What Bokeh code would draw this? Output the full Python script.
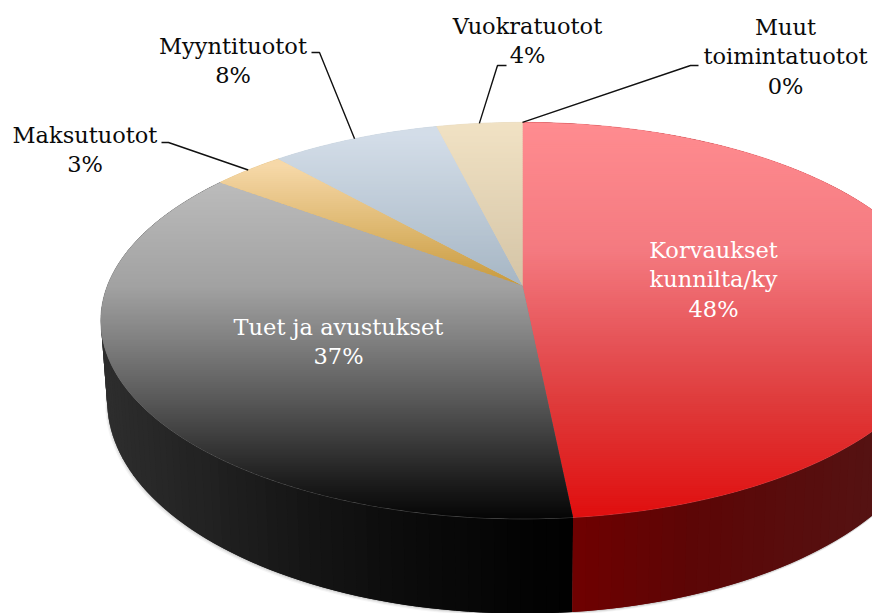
import math
from bokeh.plotting import figure
from bokeh.models import Range1d
from bokeh.core.properties import value
from bokeh.embed import file_html
from bokeh.resources import INLINE

# ---- data ----
categories = ["Korvaukset\nkunnilta/ky", "Tuet ja avustukset", "Maksutuotot",
              "Myyntituotot", "Vuokratuotot", "Muut\ntoimintatuotot"]
shares = [48.4, 36.7, 3.3, 7.7, 3.9, 0.0]

# ---- style: colour stops by picture height ----
top_stops = [
    [(122, "#ff8c90"), (250, "#f47a80"), (340, "#e65458"), (400, "#df3c3c"), (515, "#e00f0f")],
    [(180, "#bcbcbc"), (285, "#a2a2a2"), (340, "#808080"), (400, "#585858"), (480, "#1e1e1e"), (518, "#050505")],
    [(165, "#f6d8a8"), (285, "#c89a3c")],
    [(135, "#d3dde8"), (285, "#a6b6c4")],
    [(122, "#f1e2c4"), (285, "#d4c4a6")],
    [(122, "#ffffff"), (285, "#ffffff")],
]
wall_stops = [
    [(572, "#700000"), (700, "#5c0606"), (872, "#551212")],
    [(100, "#2e2e2e"), (200, "#222222"), (300, "#151515"), (400, "#0b0b0b"), (572, "#000000")],
]
label_pos = [(713, 249, "#ffffff"), (338, 326, "#ffffff"), (84.5, 134, "#0a0a0a"),
             (232.5, 45, "#0a0a0a"), (527, 25, "#0a0a0a"), (785, 26, "#0a0a0a")]
knees = {2: [(161, 142), (168, 142)], 3: [(311, 52), (319, 52)],
         4: [(506, 65), (497, 65)], 5: [(698, 65), (690, 65)]}
FONT = "DejaVu Serif"
FONT_SIZE = "22.5px"
LINE_H = 29.5

# ---- projection of the tilted disc ----
CX, CY, RX, RY, K, H, S = 522.0, 285.0, 415.0, 192.0, 0.177, 78.0, 0.985

def project(theta):
    u, v = math.sin(theta), -math.cos(theta)
    w = 1 / (1 - K * v)
    return CX + RX * u * w, CY + RY * v * w

def project_low(theta):
    u, v = math.sin(theta), -math.cos(theta)
    w = 1 / (1 - K * v)
    return CX + RX * u * w * S, CY + RY * v * w + H * w

def hex2rgb(c):
    return tuple(int(c[i:i + 2], 16) for i in (1, 3, 5))

def ramp(stops, t):
    if t <= stops[0][0]:
        return stops[0][1]
    for (a, ca), (b, cb) in zip(stops, stops[1:]):
        if t <= b:
            f = (t - a) / (b - a)
            ra, rb = hex2rgb(ca), hex2rgb(cb)
            return "#%02x%02x%02x" % tuple(round(x + (y - x) * f) for x, y in zip(ra, rb))
    return stops[-1][1]

def clip(poly, lo, hi):
    def half(pts, inside, limit):
        out = []
        for i, p in enumerate(pts):
            q = pts[(i + 1) % len(pts)]
            if inside(p):
                out.append(p)
            if inside(p) != inside(q):
                f = (limit - p[1]) / (q[1] - p[1])
                out.append((p[0] + (q[0] - p[0]) * f, limit))
        return out
    res = half(poly, lambda p: p[1] >= lo, lo)
    if res:
        res = half(res, lambda p: p[1] <= hi, hi)
    return res

p = figure(width=872, height=613, x_range=Range1d(0, 872), y_range=Range1d(613, 0),
           output_backend="svg", toolbar_location=None, min_border=0)
p.axis.visible = False
p.grid.visible = False
p.outline_line_color = None
p.background_fill_color = "#ffffff"
p.border_fill_color = "#ffffff"

total = sum(shares)
edges = [0.0]
for s in shares:
    edges.append(edges[-1] + s / total * 2 * math.pi)

# soft shadow under the wall
low = [project_low(math.radians(a)) for a in range(0, 360, 2)]
for dx, dy, al in [(-2, 3, 0.07), (-1, 2, 0.12), (0, 1, 0.2)]:
    p.patch([x + dx for x, _ in low], [y + dy for _, y in low], fill_color="#777777",
            fill_alpha=al, line_color=None)

# walls: strips overlap the next one so no seam shows
xs, ys, cols = [], [], []
STEP = math.radians(1.5)
for i, stops in reversed(list(enumerate(wall_stops))):
    a, b = edges[i], edges[i + 1]
    n = max(2, int((b - a) / STEP))
    order = range(n) if i == 1 else reversed(range(n))
    for j in order:
        t0, t1 = a + (b - a) * j / n, a + (b - a) * (j + 1) / n
        if i == 1:
            t0 = max(a, t0 - STEP)
        else:
            t1 = min(b, t1 + STEP)
        pts = [project(t0), project(t1), project_low(t1), project_low(t0)]
        xs.append([q[0] for q in pts])
        ys.append([q[1] for q in pts])
        cols.append(ramp(stops, sum(q[0] for q in pts) / 4))
p.patches(xs, ys, fill_color=cols, line_color=None)

# disc top: a solid underlay per slice, then overlapping bands for the vertical gradient
ux, uy, ucol = [], [], []
xs, ys, cols = [], [], []
BAND = 2
for i, stops in enumerate(top_stops):
    a, b = edges[i], edges[i + 1]
    if b - a <= 0:
        continue
    n = max(2, int((b - a) / math.radians(1)))
    poly = [(CX, CY)] + [project(a + (b - a) * j / n) for j in range(n + 1)]
    y0, y1 = min(q[1] for q in poly), max(q[1] for q in poly)
    ux.append([q[0] for q in poly])
    uy.append([q[1] for q in poly])
    ucol.append(ramp(stops, (y0 + y1) / 2))
    y = y0
    while y < y1:
        part = clip(poly, y, y + BAND + 1)
        if len(part) >= 3:
            xs.append([q[0] for q in part])
            ys.append([q[1] for q in part])
            cols.append(ramp(stops, y + BAND / 2))
        y += BAND
p.patches(ux, uy, fill_color=ucol, line_color=ucol, line_width=0.6)
p.patches(xs, ys, fill_color=cols, line_color=None)

# leaders
for i, knee in knees.items():
    mid = (edges[i] + edges[i + 1]) / 2
    tip = project(mid)
    p.line([k[0] for k in knee] + [tip[0]], [k[1] for k in knee] + [tip[1]],
           line_color="#111111", line_width=1.4)

# labels
for name, s, (lx, ly, col) in zip(categories, shares, label_pos):
    lines = name.split("\n") + ["%d%%" % round(s)]
    p.text([lx] * len(lines), [ly + k * LINE_H for k in range(len(lines))], text=lines,
           text_align="center", text_baseline="middle", text_color=col,
           text_font=value(FONT), text_font_size=FONT_SIZE)

open("out.html", "w").write(file_html(p, INLINE))
